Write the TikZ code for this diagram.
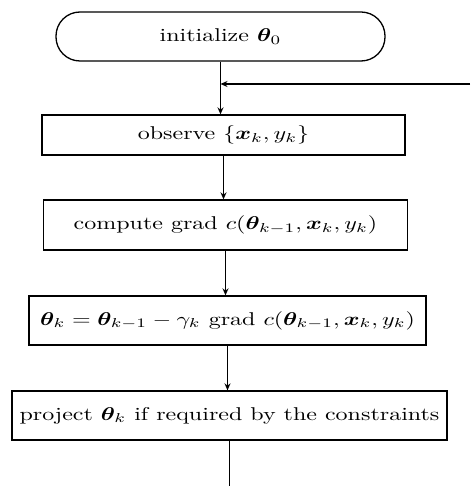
\documentclass[tikz,border=0pt]{standalone}
\usepackage{amsmath,bm}
\usetikzlibrary{arrows.meta}
\newcommand{\wtxt}[1]{\scalebox{2.4}[1.85]{#1}}
\begin{document}
\begin{tikzpicture}[x=1pt,y=-1pt,
  every node/.style={font=\fontsize{10}{12}\selectfont},
  termbox/.style={draw,line width=1.3pt,rounded corners=24pt,minimum width=329pt,minimum height=49pt,inner sep=0pt},
  procbox/.style={draw,line width=1.3pt,minimum height=#1,inner sep=0pt},
  flow/.style={line width=1.2pt,-{Stealth[length=7pt,width=6pt]}},
  plain/.style={line width=1.2pt}]
\useasboundingbox (0,0) rectangle (470,486);
\node[termbox] (init) at (220.5,36.5) {\wtxt{initialize $\bm{\theta}_0$}};
\node[procbox=40pt,minimum width=363pt] (obs) at (223.5,135) {\wtxt{observe $\{\bm{x}_k,y_k\}$}};
\node[procbox=50pt,minimum width=364pt] (grad) at (225.5,225) {\wtxt{compute grad $c(\bm{\theta}_{k-1},\bm{x}_k,y_k)$}};
\node[procbox=49pt,minimum width=397pt] (upd) at (227.5,320.5) {\wtxt{$\bm{\theta}_k=\bm{\theta}_{k-1}-\gamma_k$ grad $c(\bm{\theta}_{k-1},\bm{x}_k,y_k)$}};
\node[procbox=49pt,minimum width=435pt] (proj) at (229.5,415.5) {\wtxt{project $\bm{\theta}_k$ if required by the constraints}};
\coordinate (loopin) at (470,84);
\coordinate (join) at (init.south |- loopin);
\coordinate (out) at (proj.south |- 0,486);
\draw[flow] (init.south) -- (init.south |- obs.north);
\draw[flow] (loopin) -- (join);
\draw[flow] (obs.south) -- (obs.south |- grad.north);
\draw[flow] (grad.south) -- (grad.south |- upd.north);
\draw[flow] (upd.south) -- (upd.south |- proj.north);
\draw[plain] (proj.south) -- (out);
\end{tikzpicture}
\end{document}
